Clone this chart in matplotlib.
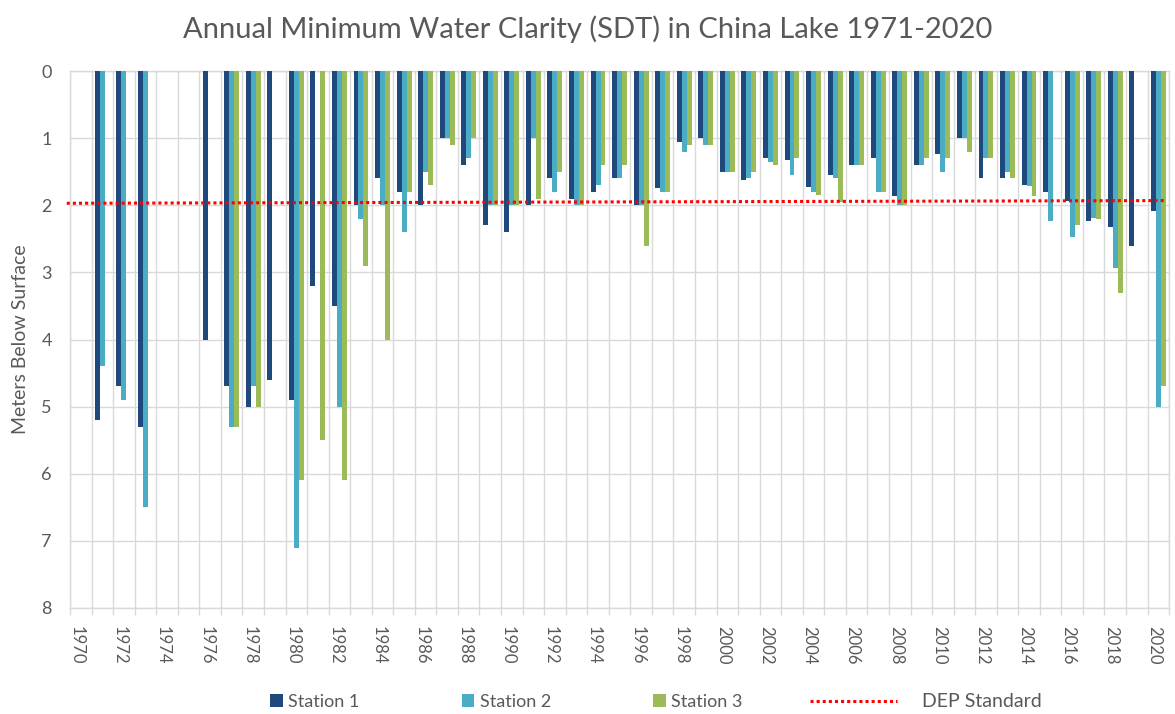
import numpy as np
import matplotlib
matplotlib.use("Agg")
import matplotlib.pyplot as plt
import matplotlib.transforms as mtransforms
from matplotlib.patches import Patch
from matplotlib.lines import Line2D

plt.rcParams["font.family"] = ["Lato", "DejaVu Sans"]

nan = np.nan

# DATA
years = list(range(1970, 2021))

station_1 = [nan, 5.2, 4.7, 5.3, nan, nan, 4.0, 4.7, 5.0, 4.6,
             4.9, 3.2, 3.5, 2.0, 1.6, 1.8, 2.0, 1.0, 1.4, 2.3,
             2.4, 2.0, 1.6, 1.9, 1.8, 1.6, 2.0, 1.75, 1.05, 1.0,
             1.5, 1.63, 1.3, 1.33, 1.73, 1.55, 1.4, 1.3, 1.86, 1.4,
             1.24, 1.0, 1.6, 1.6, 1.7, 1.8, 1.94, 2.24, 2.33, 2.6,
             2.09]

station_2 = [nan, 4.4, 4.9, 6.5, nan, nan, nan, 5.3, 4.7, nan,
             7.1, nan, 5.0, 2.2, 2.0, 2.4, 1.5, 1.0, 1.3, 2.0,
             2.0, 1.0, 1.8, 2.0, 1.7, 1.6, 2.0, 1.8, 1.2, 1.1,
             1.5, 1.6, 1.35, 1.55, 1.8, 1.6, 1.4, 1.8, 2.0, 1.4,
             1.5, 1.0, 1.3, 1.5, 1.72, 2.24, 2.48, 2.19, 2.94, nan,
             5.0]

station_3 = [nan, nan, nan, nan, nan, nan, nan, 5.3, 5.0, nan,
             6.1, 5.5, 6.1, 2.9, 4.0, 1.8, 1.7, 1.1, 1.0, 2.0,
             2.0, 1.9, 1.5, 2.0, 1.4, 1.4, 2.6, 1.8, 1.1, 1.1,
             1.5, 1.5, 1.4, 1.3, 1.85, 1.95, 1.4, 1.8, 2.0, 1.3,
             1.3, 1.2, 1.3, 1.6, 1.86, nan, 2.3, 2.2, 3.3, nan,
             4.7]

# DEP standard line, as drawn (start / end depth)
dep_standard = [1.97, 1.93]

series = [("Station 1", station_1, "#1F497D"),
          ("Station 2", station_2, "#4BACC6"),
          ("Station 3", station_3, "#9BBB59")]

text_color = "#595959"
grid_color = "#D9D9D9"

# FIGURE
fig = plt.figure(figsize=(11.75, 7.14), dpi=100)
ax = fig.add_axes([0.0596, 0.1485, 0.9354, 0.752])

x = np.arange(len(years))
width = 0.23

for i, (name, values, color) in enumerate(series):
    ax.bar(x + (i - 1) * width, values, width=width, color=color,
           edgecolor="none", zorder=3)

# DEP line, starts just left of the plot area
ax.plot([-0.003, 0.996], dep_standard, color="#FF0000", linestyle=(0, (1, 1)),
        linewidth=2.2, transform=ax.get_yaxis_transform(), clip_on=False,
        zorder=4)

# AXES
ax.set_xlim(-0.5, len(years) - 0.5)
ax.set_ylim(8, 0)

ax.set_yticks(range(0, 9))
ax.tick_params(axis="y", length=0, pad=13, labelsize=13, labelcolor=text_color)

ax.set_xticks(x[::2])
ax.set_xticklabels([str(y) for y in years[::2]], rotation=-90)
ax.set_xticks(np.arange(-0.5, len(years), 1), minor=True)
ax.tick_params(axis="x", which="major", length=0, pad=13, labelsize=12,
               labelcolor=text_color)
ax.tick_params(axis="x", which="minor", length=5, color=grid_color, width=1)

shift = mtransforms.ScaledTranslation(-4 / 100, 0, fig.dpi_scale_trans)
for lbl in ax.get_xticklabels():
    lbl.set_transform(lbl.get_transform() + shift)

ax.grid(True, axis="y", color=grid_color, linewidth=1, zorder=0)
ax.grid(True, axis="x", which="minor", color=grid_color, linewidth=1, zorder=0)

for side in ["top", "right", "left", "bottom"]:
    ax.spines[side].set_color(grid_color)
    ax.spines[side].set_linewidth(1)

ax.set_ylabel("Meters Below Surface", fontsize=14, color=text_color)
ax.yaxis.set_label_coords(-0.037, 0.5)

fig.suptitle("Annual Minimum Water Clarity (SDT) in China Lake 1971-2020",
             fontsize=21, color=text_color, y=0.978)

# LEGEND
handles = [Patch(facecolor=c, edgecolor="none") for _, _, c in series]
leg1 = fig.legend(handles, [n for n, _, _ in series], ncol=3,
                  loc="center", bbox_to_anchor=(0.431, 0.017),
                  frameon=False, fontsize=13, handlelength=0.7,
                  handleheight=0.7, handletextpad=0.3, columnspacing=5.65,
                  labelcolor=text_color)

dep_handle = Line2D([0], [0], color="#FF0000", linestyle=(0, (1, 1)),
                    linewidth=2.2)
leg2 = fig.legend([dep_handle], ["DEP Standard"], loc="center",
                  bbox_to_anchor=(0.788, 0.017), frameon=False, fontsize=14,
                  handlelength=4.5, handletextpad=1.3, labelcolor=text_color)

fig.savefig("out.png", dpi=100)
